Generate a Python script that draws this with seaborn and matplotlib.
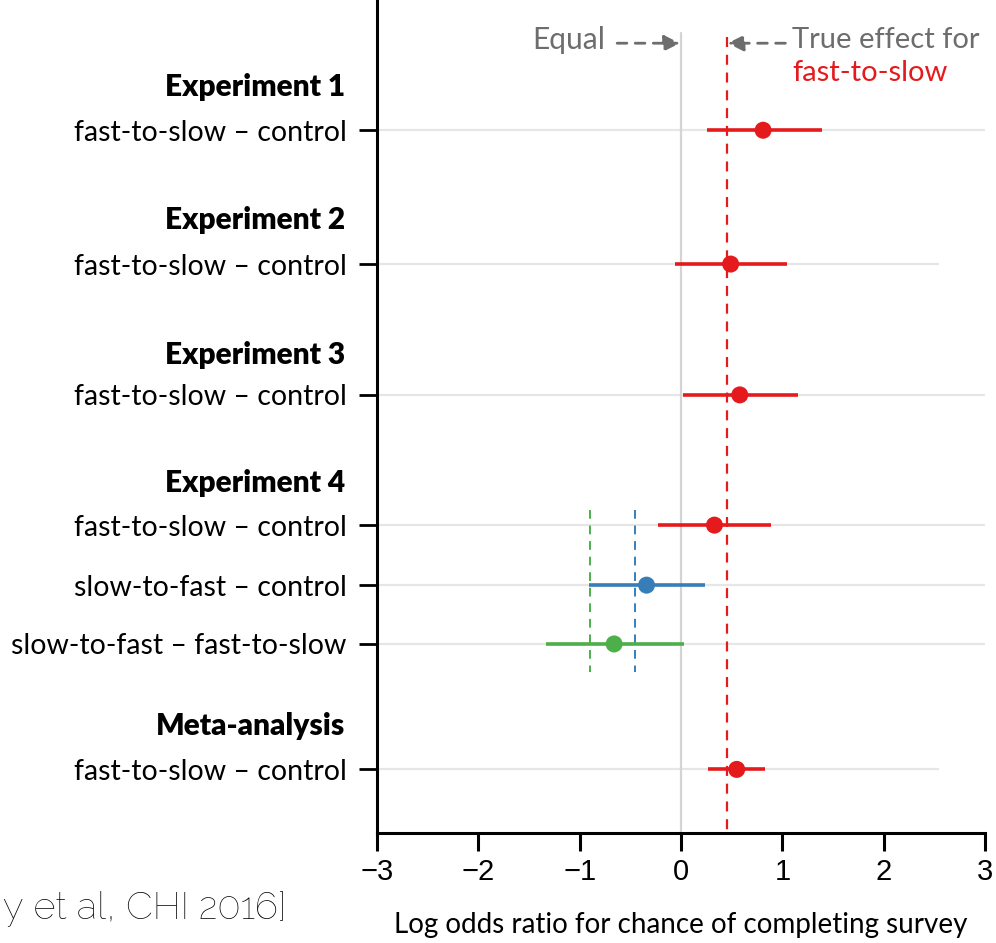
import matplotlib
matplotlib.use("Agg")
import matplotlib.pyplot as plt
import matplotlib.transforms as mtransforms
import seaborn as sns
import pandas as pd

# ---- data ----
groups = ["Experiment 1", "Experiment 2", "Experiment 3", "Experiment 4",
          "Experiment 4", "Experiment 4", "Meta-analysis"]
comparisons = ["fast-to-slow \u2013 control", "fast-to-slow \u2013 control",
               "fast-to-slow \u2013 control", "fast-to-slow \u2013 control",
               "slow-to-fast \u2013 control", "slow-to-fast \u2013 fast-to-slow",
               "fast-to-slow \u2013 control"]
estimates = [0.81, 0.49, 0.58, 0.33, -0.34, -0.66, 0.55]
ci_low = [0.26, -0.06, 0.02, -0.23, -0.91, -1.33, 0.27]
ci_high = [1.39, 1.05, 1.15, 0.89, 0.24, 0.03, 0.83]
kinds = ["fs", "fs", "fs", "fs", "sf", "diff", "fs"]
reference_effects = {"fs": 0.45, "sf": -0.45, "diff": -0.90}
equal_value = 0.0
x_ticks = [-3, -2, -1, 0, 1, 2, 3]
headers = ["Experiment 1", "Experiment 2", "Experiment 3", "Experiment 4", "Meta-analysis"]
citation = "y et al, CHI 2016]"

# ---- layout (positions, not data) ----
row_pos = [2.17, 4.40, 6.58, 8.75, 9.75, 10.73, 12.82]
header_pos = [1.45, 3.67, 5.92, 8.05, 12.10]
grid_end = [3.0, 2.55, 3.0, 3.0, 3.0, 3.0, 2.55]
ref_span = {"sf": (8.5, 11.2), "diff": (8.5, 11.2)}
palette = {"fs": "#e41a1c", "sf": "#377eb8", "diff": "#4daf4a"}

df = pd.DataFrame({"group": groups, "comparison": comparisons, "est": estimates,
                   "lo": ci_low, "hi": ci_high, "kind": kinds, "y": row_pos})

sns.set_theme(style="ticks")
plt.rcParams["font.family"] = ["Lato", "DejaVu Sans"]
plt.rcParams["text.color"] = "black"

fig = plt.figure(figsize=(9.96, 9.43), dpi=100)
ax = fig.add_axes([377 / 996, 1 - 833 / 943, 608 / 996, 833 / 943])

# gridlines per row
for y, xe in zip(row_pos, grid_end):
    ax.plot([-3, xe], [y, y], color="#e6e6e6", lw=1.6, zorder=0, solid_capstyle="butt")

# equal line
ax.plot([equal_value, equal_value], [0.55, 13.88], color="#d4d4d4", lw=1.6, zorder=1)
# true effect fast-to-slow
ax.plot([reference_effects["fs"]] * 2, [0.62, 13.88], color=palette["fs"], lw=1.6,
        ls=(0, (4.5, 3.5)), zorder=1)
for k in ["sf", "diff"]:
    y0, y1 = ref_span[k]
    ax.plot([reference_effects[k]] * 2, [y0, y1], color=palette[k], lw=1.4,
            ls=(0, (4.5, 3.5)), zorder=1)

# CIs
for _, r in df.iterrows():
    ax.plot([r.lo, r.hi], [r.y, r.y], color=palette[r.kind], lw=2.6, zorder=3,
            solid_capstyle="butt")

sns.scatterplot(data=df, x="est", y="y", hue="kind", palette=palette, s=150,
                edgecolor="none", legend=False, zorder=4, ax=ax)

ax.set_xlim(-3, 3)
ax.set_ylim(13.88, 0)
ax.set_xticks(x_ticks)
ax.set_xticklabels([("\u2212" + str(abs(t))) if t < 0 else str(t) for t in x_ticks],
                   family=["Liberation Sans Narrow", "Liberation Sans", "DejaVu Sans"],
                   fontsize=21, color="black")
ax.set_yticks(row_pos)
ax.set_yticklabels(comparisons, fontsize=20.5, color="black")
ax.tick_params(axis="y", length=13, width=2, pad=9, color="black")
ax.tick_params(axis="x", length=13, width=2.2, pad=5, color="black")
ax.set_xlabel("Log odds ratio for chance of completing survey", fontsize=20,
              labelpad=19, color="black")
ax.set_ylabel("")
for side in ["top", "right"]:
    ax.spines[side].set_visible(False)
for side in ["left", "bottom"]:
    ax.spines[side].set_linewidth(2.2)
    ax.spines[side].set_color("black")
ax.set_facecolor("white")

trans = mtransforms.blended_transform_factory(ax.transAxes, ax.transData)
for h, y in zip(headers, header_pos):
    ax.text(-0.053, y, h, transform=trans, ha="right", va="center",
            fontsize=21.5, fontweight="heavy", clip_on=False, color="black")

# annotations
arrow_style = dict(arrowstyle="-|>,head_length=0.8,head_width=0.4",
                   color="#6d6d6d", lw=2.0, ls=(0, (3.5, 3)), shrinkA=0, shrinkB=0)
ax.text(-0.75, 0.67, "Equal", color="#6d6d6d", fontsize=21.5, ha="right", va="center")
ax.annotate("", xy=(equal_value - 0.01, 0.72), xytext=(-0.63, 0.72),
            arrowprops=arrow_style)
ax.text(1.10, 0.67, "True effect for", color="#6d6d6d", fontsize=21, ha="left", va="center")
ax.text(1.10, 1.22, "fast-to-slow", color=palette["fs"], fontsize=21, ha="left", va="center")
ax.annotate("", xy=(reference_effects["fs"] + 0.01, 0.72), xytext=(1.03, 0.72),
            arrowprops=arrow_style)

fig.text(3 / 996, 1 - 908 / 943, citation, fontsize=27.5, fontweight=600,
         ha="left", va="center", family=["Raleway", "Lato", "DejaVu Sans"], color="black")

fig.savefig("out.png", dpi=100, facecolor="white")
